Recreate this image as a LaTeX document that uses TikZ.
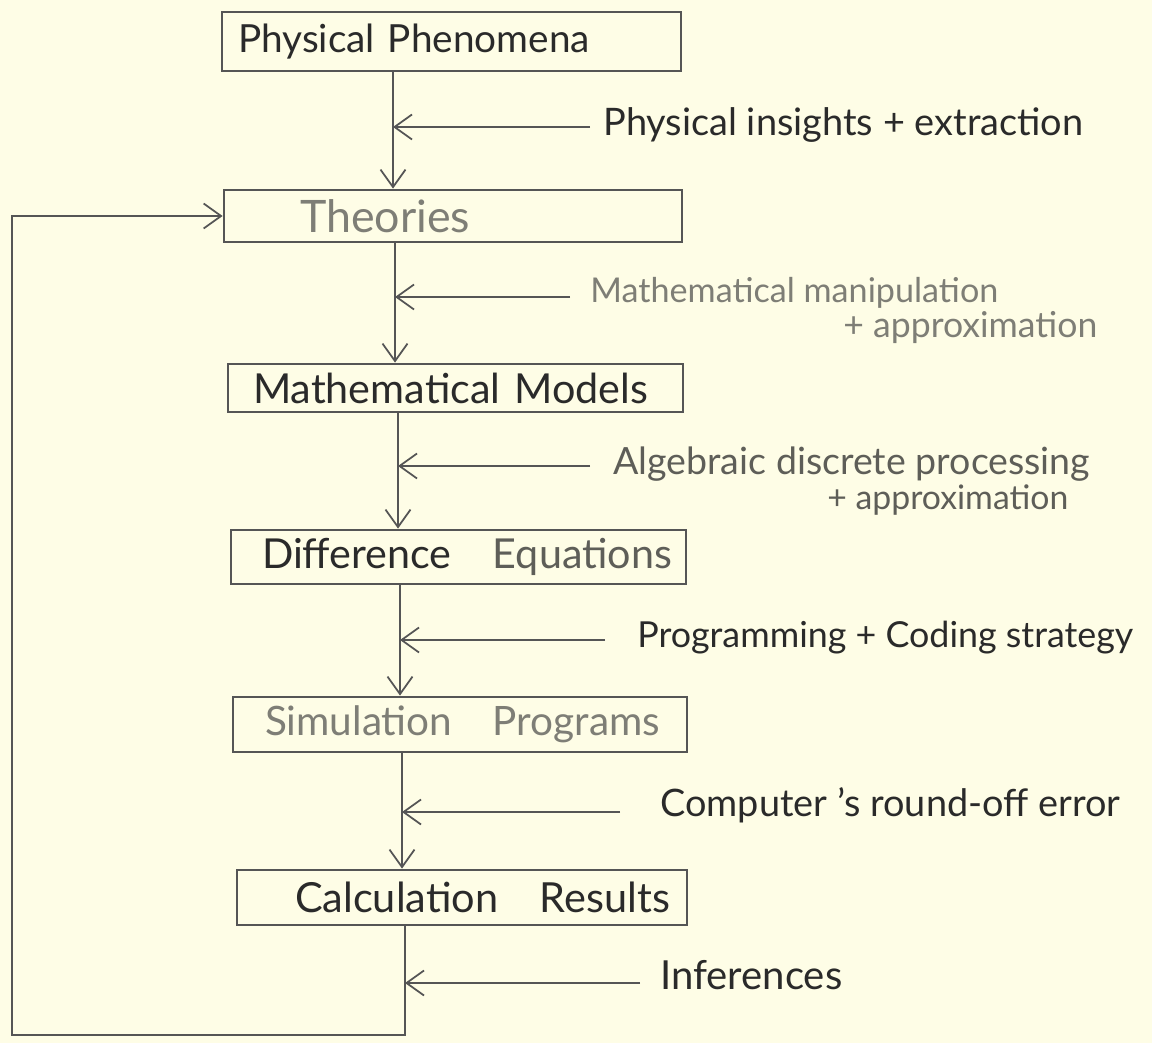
\documentclass[tikz,border=0pt]{standalone}
\usepackage{fontspec}
\setmainfont{Lato}
\usetikzlibrary{arrows.meta}
\definecolor{bg}{HTML}{FEFDE6}
\definecolor{ink}{HTML}{2A2A2A}
\definecolor{pale}{HTML}{7E7E76}
\definecolor{mid}{HTML}{5E5E58}
\definecolor{linec}{HTML}{555555}
\newcommand\fw[2]{\resizebox{#1}{!}{#2}}
\begin{document}
\begin{tikzpicture}[x=0.02cm,y=-0.02cm,
 box/.style={draw=linec, line width=1.6pt, inner sep=0pt, align=left,
   font=\fontsize{24}{28}\selectfont, text=ink},
 arr/.style={draw=linec, line width=1pt, -{Straight Barb[length=3.5mm,width=5mm]}},
 lab/.style={anchor=west, inner sep=0pt, text=ink, font=\fontsize{22}{26}\selectfont}]
\fill[bg] (0,0) rectangle (1152,1043);
\useasboundingbox (0,0) rectangle (1152,1043);

% boxes
\node[box, minimum height=1.18cm, text width=9.18cm] (p1) at (451.5,41.5) {\hspace*{0.32cm}\fw{7.04cm}{Physical Phenomena}};
\node[box, minimum height=1.04cm, text width=9.16cm, text=pale] (p2) at (453,216) {\hspace*{1.52cm}\fw{3.4cm}{Theories}};
\node[box, minimum height=0.96cm, text width=9.10cm] (p3) at (455.5,388) {\hspace*{0.5cm}\fw{7.9cm}{Mathematical Models}};
\node[box, minimum height=1.08cm, text width=9.10cm] (p4) at (458.5,557) {\hspace*{0.62cm}\fw{8.2cm}{Difference\quad\textcolor{mid}{Equations}}};
\node[box, minimum height=1.10cm, text width=9.08cm, text=pale] (p5) at (460,724.5) {\hspace*{0.64cm}\fw{7.9cm}{Simulation\quad Programs}};
\node[box, minimum height=1.10cm, text width=9.00cm] (p6) at (462,897.5) {\hspace*{1.16cm}\fw{7.5cm}{Calculation\quad Results}};

% side labels
\node[lab] (l1) at (603,125) {\fw{9.6cm}{Physical insights + extraction}};
\node[lab, text=pale] (l2) at (590,293) {\fw{8.16cm}{Mathematical manipulation}};
\node[lab, text=pale] (l2b) at (843,328) {\fw{5.08cm}{+ approximation}};
\node[lab, text=mid] (l3) at (613,464) {\fw{9.54cm}{Algebraic discrete processing}};
\node[lab, text=mid] (l3b) at (827,500) {\fw{4.82cm}{+ approximation}};
\node[lab] (l4) at (637,638) {\fw{9.92cm}{Programming + Coding strategy}};
\node[lab] (l5) at (660,805) {\fw{9.2cm}{Computer 's round-off error}};
\node[lab] (l6) at (660,975) {\fw{3.64cm}{Inferences}};

% side arrow coordinates
\coordinate (t1) at (393,127); \coordinate (s1) at (590,127);
\coordinate (t2) at (395,297); \coordinate (s2) at (570,297);
\coordinate (t3) at (398,466); \coordinate (s3) at (590,466);
\coordinate (t4) at (400,640); \coordinate (s4) at (605,640);
\coordinate (t5) at (402,812); \coordinate (s5) at (620,812);
\coordinate (t6) at (405,983); \coordinate (s6) at (640,983);
\coordinate (lb) at (12,1035);

% main flow
\draw[arr] (p1.south -| t1) -- (p2.north -| t1);
\draw[arr] (p2.south -| t2) -- (p3.north -| t2);
\draw[arr] (p3.south -| t3) -- (p4.north -| t3);
\draw[arr] (p4.south -| t4) -- (p5.north -| t4);
\draw[arr] (p5.south -| t5) -- (p6.north -| t5);

% side inputs
\draw[arr] (s1) -- (t1);
\draw[arr] (s2) -- (t2);
\draw[arr] (s3) -- (t3);
\draw[arr] (s4) -- (t4);
\draw[arr] (s5) -- (t5);
\draw[arr] (s6) -- (t6);

% feedback loop
\draw[arr] (p6.south -| t6) |- (lb) |- (p2.west);
\end{tikzpicture}
\end{document}
